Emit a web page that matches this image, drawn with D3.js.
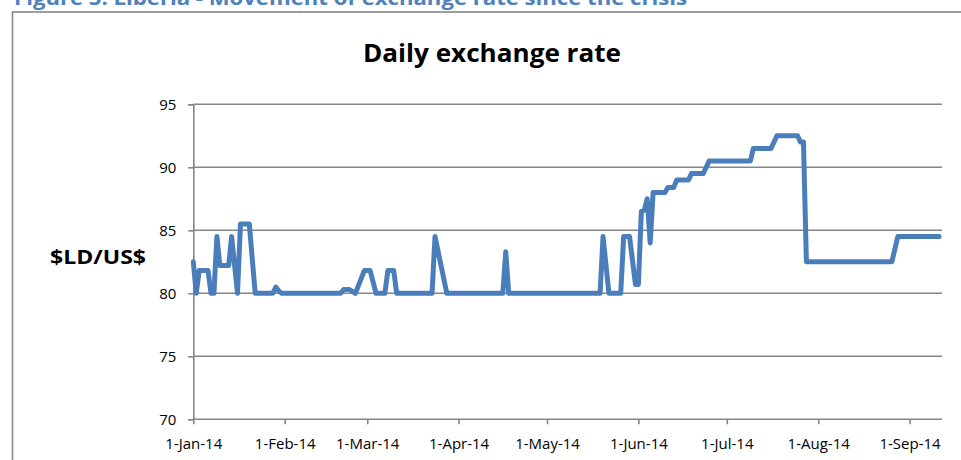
<!DOCTYPE html>
<html>
  <head>
      <title>Daily exchange rate</title>
      <script src="https://cdn.jsdelivr.net/npm/d3@7"></script>
      <style>
        body { margin: 0; background: #fff; }
        text { font-family: "Open Sans", sans-serif; }
      </style>
  </head>
  <body>
        <div></div>
        <script>
           var dates = ["2014-01-01","2014-01-02","2014-01-03","2014-01-06","2014-01-07","2014-01-08","2014-01-09","2014-01-10",
                        "2014-01-13","2014-01-14","2014-01-16","2014-01-17","2014-01-20","2014-01-22","2014-01-28","2014-01-29",
                        "2014-01-30","2014-01-31","2014-02-20","2014-02-21","2014-02-23","2014-02-25","2014-02-28","2014-03-02",
                        "2014-03-04","2014-03-07","2014-03-08","2014-03-10","2014-03-11","2014-03-23","2014-03-24","2014-03-28",
                        "2014-04-16","2014-04-17","2014-04-18","2014-05-19","2014-05-20","2014-05-22","2014-05-26","2014-05-27",
                        "2014-05-29","2014-05-31","2014-06-01","2014-06-02","2014-06-03","2014-06-04","2014-06-05","2014-06-06",
                        "2014-06-10","2014-06-11","2014-06-13","2014-06-14","2014-06-18","2014-06-19","2014-06-23","2014-06-25",
                        "2014-07-09","2014-07-10","2014-07-16","2014-07-18","2014-07-24","2014-07-25","2014-07-26","2014-07-27",
                        "2014-07-28","2014-08-26","2014-08-28","2014-09-11"]
           var rates = [82.5,80,81.8,81.8,80,80,84.5,82.2,
                        82.2,84.5,80,85.5,85.5,80,80,80.5,
                        80.2,80,80,80.3,80.3,80,81.8,81.8,
                        80,80,81.8,81.8,80,80,84.5,80,
                        80,83.3,80,80,84.5,80,80,84.5,
                        84.5,80.7,80.7,86.5,86.6,87.5,84,88,
                        88,88.4,88.4,89,89,89.5,89.5,90.5,
                        90.5,91.5,91.5,92.5,92.5,92.5,92,92,
                        82.5,82.5,84.5,84.5]
           var yTicks = [70,75,80,85,90,95]
           var xTicks = ["2014-01-01","2014-02-01","2014-03-01","2014-04-01","2014-05-01","2014-06-01","2014-07-01","2014-08-01","2014-09-01"]
           var parse = d3.timeParse("%Y-%m-%d")
           var fmt = d3.timeFormat("%-d-%b-%y")
           var data = dates.map((d,i) => ({date: parse(d), value: rates[i]}))

           var svg = d3.select("div").append("svg").attr("width",961).attr("height",460)
           var x = d3.scaleTime().domain([parse("2014-01-01"), parse("2014-09-12")]).range([193.3,942])
           var y = d3.scaleLinear().domain([70,95]).range([419.3,104.3])

           svg.append("text").attr("x",14).attr("y",5).attr("textLength",673).attr("lengthAdjust","spacingAndGlyphs")
              .attr("font-size",20).attr("font-weight","bold").attr("fill","#4f81bd")
              .text("Figure 5: Liberia - Movement of exchange rate since the crisis")
           svg.append("rect").attr("x",12.5).attr("y",12).attr("width",1000).attr("height",1000)
              .attr("fill","none").attr("stroke","#868686").attr("stroke-width",1.6)

           svg.append("text").attr("x",363).attr("y",62).attr("textLength",258).attr("lengthAdjust","spacingAndGlyphs")
              .attr("font-size",25).attr("font-weight","bold").attr("fill","#000").text("Daily exchange rate")
           svg.append("text").attr("x",50).attr("y",264).attr("textLength",96).attr("lengthAdjust","spacingAndGlyphs")
              .attr("font-size",19).attr("font-weight","bold").attr("fill","#000").text("$LD/US$")

           var yAxis = svg.append("g").attr("transform","translate(193.3,0)")
              .call(d3.axisLeft(y).tickValues(yTicks).tickSize(5).tickPadding(12))
           yAxis.select(".domain").attr("stroke","#868686").attr("stroke-width",1.6)
           yAxis.selectAll(".tick line").attr("stroke","#868686").attr("stroke-width",1.6)
           yAxis.selectAll(".tick text").attr("font-size",15).attr("fill","#000").attr("font-family","Open Sans, sans-serif")

           svg.append("g").selectAll("line").data(yTicks).enter().append("line")
              .attr("x1",193.3).attr("x2",942).attr("y1",d => y(d)).attr("y2",d => y(d))
              .attr("stroke","#868686").attr("stroke-width",1.6)

           var xAxis = svg.append("g").attr("transform","translate(0,419.3)")
              .call(d3.axisBottom(x).tickValues(xTicks.map(parse)).tickFormat(fmt).tickSize(5).tickPadding(14).tickSizeOuter(0))
           xAxis.select(".domain").remove()
           xAxis.selectAll(".tick line").attr("stroke","#868686").attr("stroke-width",1.6)
           xAxis.selectAll(".tick text").attr("font-size",15).attr("fill","#000").attr("font-family","Open Sans, sans-serif")

           var line = d3.line().x(d => x(d.date)).y(d => y(d.value))
           svg.append("path").datum(data).attr("d",line).attr("fill","none")
              .attr("stroke","#4a7ebb").attr("stroke-width",5).attr("stroke-linejoin","round").attr("stroke-linecap","round")
        </script>
  </body>
</html>
